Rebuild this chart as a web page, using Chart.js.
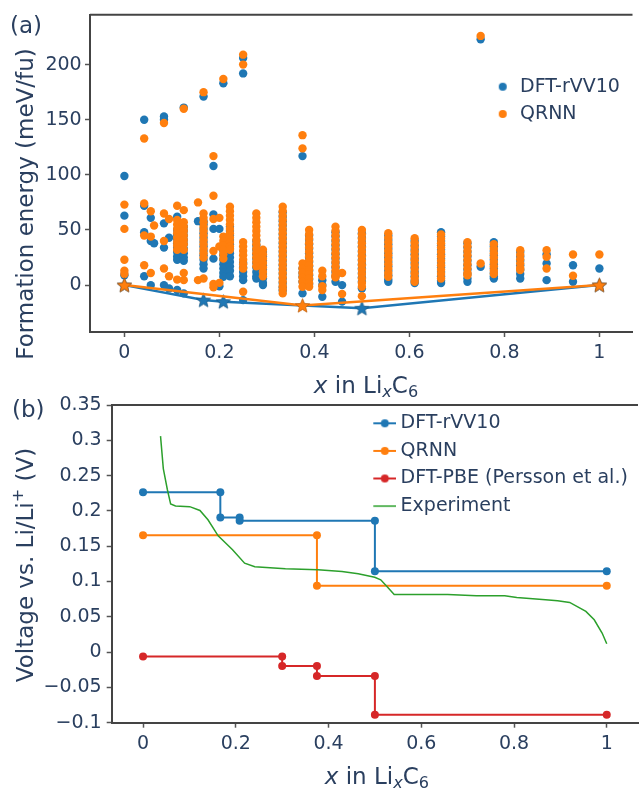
<!DOCTYPE html>
<html><head><meta charset="utf-8">
<script src="https://cdn.jsdelivr.net/npm/chart.js@4.4.1/dist/chart.umd.min.js"></script>
<style>
html,body{margin:0;padding:0;background:#fff;overflow:hidden;width:642px;height:790px}
#wrap{position:relative;width:642px;height:790px}
canvas{position:absolute;left:0}
#c1{top:0;width:642px;height:380px}
#c2{top:380px;width:642px;height:410px}
.lbl{position:absolute;font-family:'DejaVu Sans',Verdana,sans-serif;font-size:23px;line-height:23px;color:#2a3f5f;white-space:nowrap}
.sub{font-size:70%;position:relative;top:0.3em}
.sup{font-size:70%;position:relative;top:-0.6em}
.rot{transform-origin:0 0;transform:rotate(-90deg);width:400px;text-align:center}
</style></head><body>
<div id="wrap">
<canvas id="c1" width="642" height="380"></canvas>
<canvas id="c2" width="642" height="410"></canvas>
<div class="lbl" style="left:10px;top:13.5px">(a)</div>
<div class="lbl" style="left:12px;top:398px">(b)</div>
<div class="lbl rot" style="left:13.8px;top:404px">Formation energy (meV/fu)</div>
<div class="lbl rot" style="left:13.8px;top:765px">Voltage vs. Li/Li<span class="sup">+</span> (V)</div>
<div class="lbl" style="left:90px;width:552px;text-align:center;top:373.5px"><i>x</i> in Li<span class="sub"><i>x</i></span>C<span class="sub">6</span></div>
<div class="lbl" style="left:111.7px;width:530.3px;text-align:center;top:764.5px"><i>x</i> in Li<span class="sub"><i>x</i></span>C<span class="sub">6</span></div>
</div>
<script>
// ---------- DATA: panel (a) formation energies (meV/fu) ----------
const compositions = [0, 1/24, 1/18, 1/16, 1/12, 0.094, 1/9, 1/8, 0.155, 1/6, 3/16, 0.2, 5/24, 2/9, 1/4, 5/18, 7/24, 1/3, 3/8, 7/18, 5/12, 4/9, 11/24, 1/2, 5/9, 11/18, 2/3, 13/18, 3/4, 7/9, 5/6, 8/9, 17/18, 1];
const dftEnergies = [
  [99, 63, 9],
  [150, 72, 48, 8],
  [61, 40, 0],
  [38],
  [153, 150, 56, 34, 0],
  [43, -3],
  [62, 50, 46, 42, 38, 34, 30, 26, 23, -4.5],
  [161, 53, 49, 45, 41, 37, 33, 29, 25, 22, -7.5],
  [58],
  [171, 58, 55, 51, 47, 43, 39, 35, 31, 27, 23, 19, 15],
  [108, 64, 51, 24],
  [51, -1],
  [183, 35, 31, 27, 23, 19, 15, 11, 7.5],
  [53, 49, 45, 41, 37, 33, 29, 25, 21, 17, 13, 8],
  [206, 192, 20, 16, 12, 8, 4.5, -13.6],
  [40, 36, 32, 28, 24, 20, 16, 12, 8, 6],
  [30, 26, 22, 18, 14, 10, 6, 2, 0],
  [66, 62, 58, 54, 50, 46, 42, 38, 34, 30, 26, 22, 18, 14, 10, 6, 2, -2, -5],
  [117, 15, 11, 7.5, 3, -7.5],
  [45, 41, 37, 33, 29, 25, 21, 17, 13, 9, 5, 1],
  [4.5, 0, -10.6],
  [48, 44, 40, 36, 32, 28, 24, 20, 16, 12, 8, 3],
  [0, -15],
  [47, 43, 39, 35, 31, 27, 23, 19, 15, 11, 7, 3, -3],
  [45, 41, 37, 33, 29, 25, 21, 17, 13, 9, 5, 3],
  [40, 36, 32, 28, 24, 20, 16, 12, 8, 4, 1.8],
  [48, 44, 40, 36, 32, 28, 24, 20, 16, 12, 8, 4, 1.8],
  [38, 34, 30, 26, 22, 18, 14, 10, 6, 3],
  [223, 16.6],
  [39, 35, 31, 27, 23, 19, 15, 11, 8, 6],
  [30, 26, 22, 18, 14, 10, 6],
  [28, 19.6, 4.5],
  [18, 3],
  [15]
];
const qrnnEnergies = [
  [73, 51, 23, 13, 10],
  [133, 74, 45, 18],
  [67, 44, 11],
  [54],
  [147, 65, 40, 15],
  [60, 8],
  [72, 59, 55, 51, 47, 43, 39, 36, 32, 5],
  [160, 68, 57, 53, 49, 45, 41, 37, 32, 11, 4.5],
  [75, 4.5],
  [175, 65, 61, 57, 53, 49, 45, 41, 37, 33, 29, 25, 6],
  [117, 81, 60, 31, 1, -2],
  [61, 35, 2],
  [187, 44, 40, 36, 32, 28, 24],
  [71, 67, 63, 59, 55, 51, 47, 43, 39, 35, 32],
  [209, 200, 39, 35, 31, 27, 23, 19, 15, -6],
  [65, 61, 57, 53, 49, 45, 41, 37, 33, 29, 25, 21, 17],
  [32, 28, 24, 20, 16, 12, 8],
  [71, 67, 63, 59, 55, 51, 47, 43, 39, 35, 31, 27, 23, 19, 15, 11, 7, 3, -1, -4, -7.5],
  [136, 124, 19.6, 15, 11, 7, 3, -1.5],
  [50, 46, 42, 38, 34, 30, 26, 22, 18, 14, 10, 6, 2, -1.5],
  [13, 8, -1, -4.5],
  [53, 49, 45, 41, 37, 33, 29, 25, 21, 17, 13, 9, 7],
  [11, -8],
  [50, 46, 42, 38, 34, 30, 26, 22, 18, 14, 10, 6, 2, -1.5, -10],
  [47, 43, 39, 35, 31, 27, 23, 19, 15, 11, 7.5],
  [42.5, 38.5, 34.5, 30.5, 26.5, 22.5, 18.5, 14.5, 10.5, 6.5, 3],
  [46, 42, 38, 34, 30, 26, 22, 18, 14, 10, 6],
  [39, 35, 31, 27, 23, 19, 15, 11, 9],
  [226, 19.6],
  [37, 33, 29, 25, 21, 17, 13, 10],
  [31.7, 27.5, 23.5, 19.5, 15.5, 13.6],
  [31.7, 25.6, 15],
  [27.8, 8.5],
  [27.8]
];
const dftHullX = [0, 1/6, 5/24, 0.5, 1];
const dftHullY = [0, -13.6, -15, -21, 0];
const qrnnHullX = [0, 0.375, 1];
const qrnnHullY = [0, -18.5, 0];
const xTicksA = [0, 0.2, 0.4, 0.6, 0.8, 1];
const xTickLabelsA = ['0', '0.2', '0.4', '0.6', '0.8', '1'];
const yTicksA = [0, 50, 100, 150, 200];
const yTickLabelsA = ['0', '50', '100', '150', '200'];

// ---------- DATA: panel (b) voltage profiles (V) ----------
const dftVoltX = [0, 1/6, 1/6, 5/24, 5/24, 0.5, 0.5, 1];
const dftVoltY = [0.2265, 0.2265, 0.1905, 0.1905, 0.186, 0.186, 0.1145, 0.1145];
const qrnnVoltX = [0, 0.375, 0.375, 1];
const qrnnVoltY = [0.1655, 0.1655, 0.094, 0.094];
const pbeVoltX = [0, 0.3, 0.3, 0.375, 0.375, 0.5, 0.5, 1];
const pbeVoltY = [-0.0062, -0.0062, -0.0198, -0.0198, -0.034, -0.034, -0.0887, -0.0887];
const expVoltX = [0.0377, 0.0437, 0.0525, 0.0595, 0.07, 0.1007, 0.1227, 0.14, 0.162, 0.193, 0.219, 0.241, 0.307, 0.377, 0.429, 0.464, 0.4996, 0.5126, 0.526, 0.5416, 0.57, 0.657, 0.719, 0.78, 0.806, 0.868, 0.894, 0.92, 0.955, 0.973, 0.99, 1.0];
const expVoltY = [0.306, 0.26, 0.23, 0.21, 0.207, 0.206, 0.2006, 0.1874, 0.1647, 0.145, 0.126, 0.121, 0.118, 0.1166, 0.114, 0.111, 0.106, 0.1024, 0.093, 0.0816, 0.0816, 0.0816, 0.0797, 0.0797, 0.0774, 0.074, 0.0727, 0.0703, 0.0576, 0.0458, 0.027, 0.0118];
const xTicksB = [0, 0.2, 0.4, 0.6, 0.8, 1];
const xTickLabelsB = ['0', '0.2', '0.4', '0.6', '0.8', '1'];
const yTicksB = [-0.1, -0.05, 0, 0.05, 0.1, 0.15, 0.2, 0.25, 0.3, 0.35];
const yTickLabelsB = ['\u22120.1', '\u22120.05', '0', '0.05', '0.1', '0.15', '0.2', '0.25', '0.3', '0.35'];

// ---------- styling ----------
const BLUE = '#1f77b4', ORANGE = '#ff7f0e', RED = '#d62728', GREEN = '#2ca02c', TXT = '#2a3f5f';
const FONT = "'DejaVu Sans', Verdana, sans-serif";
Chart.defaults.font.family = FONT;
Chart.defaults.color = TXT;

function starIcon(color, edge, R) {
  const s = Math.ceil(R * 2 + 2);
  const c = document.createElement('canvas'); c.width = s; c.height = s;
  const g = c.getContext('2d'); g.translate(s / 2, s / 2 + 0.6); g.beginPath();
  for (let k = 0; k < 10; k++) {
    const r = k % 2 ? R * 0.45 : R; const a = -Math.PI / 2 + k * Math.PI / 5;
    g.lineTo(r * Math.cos(a), r * Math.sin(a));
  }
  g.closePath(); g.fillStyle = color; g.fill(); g.lineWidth = 0.7; g.strokeStyle = edge; g.stroke();
  return c;
}
function dotIcon(color, r) {
  const s = Math.ceil(r * 2 + 2);
  const c = document.createElement('canvas'); c.width = s; c.height = s;
  const g = c.getContext('2d'); g.beginPath(); g.arc(s / 2, s / 2, r, 0, Math.PI * 2); g.fillStyle = color; g.fill();
  return c;
}
function lineIcon(color, withDot, lw) {
  const c = document.createElement('canvas'); c.width = 28; c.height = 10;
  const g = c.getContext('2d'); g.strokeStyle = color; g.lineWidth = lw;
  g.beginPath(); g.moveTo(5.1, 5); g.lineTo(28, 5); g.stroke();
  if (withDot) { g.beginPath(); g.arc(16.6, 5, 4, 0, Math.PI * 2); g.fillStyle = color; g.fill(); }
  return c;
}
function pts(xs, ys) { return xs.map((x, i) => ({x: x, y: ys[i]})); }
function scatterPts(energies) {
  const out = [];
  compositions.forEach((x, i) => energies[i].forEach(e => out.push({x: x, y: e})));
  return out;
}
function placeLegend(x, y) {
  return { id: 'placeLegend', afterLayout(chart) {
    const lg = chart.legend; if (!lg) return;
    const w = lg.width, h = lg.height;
    lg.left = x; lg.top = y; lg.right = x + w; lg.bottom = y + h;
  }};
}
const topFrame = { id: 'topFrame', afterDraw(chart) {
  const a = chart.chartArea, g = chart.ctx; g.save(); g.strokeStyle = '#444'; g.lineWidth = 2;
  g.beginPath(); g.moveTo(a.left, a.top); g.lineTo(a.right, a.top); g.stroke(); g.restore();
}};
function axis(min, max, ticks, labels, pad, fit) {
  return {
    type: 'linear', min: min, max: max,
    afterBuildTicks: s => { s.ticks = ticks.map(v => ({value: v})); },
    ticks: { callback: (v, i) => labels[i], padding: pad, font: {size: 19}, color: TXT, autoSkip: false, maxRotation: 0 },
    grid: { display: true, drawOnChartArea: false, drawTicks: true, tickLength: 5, tickColor: '#555', tickWidth: 1.5 },
    border: { display: true, color: '#444', width: 2 },
    afterFit: fit
  };
}
function legendOpts(entries, pad, boxW) {
  return {
    display: true, position: 'chartArea', align: 'start',
    labels: {
      usePointStyle: true, pointStyleWidth: boxW, padding: pad, font: {size: 19}, color: TXT,
      generateLabels: () => entries.map(e => ({ text: e.text, pointStyle: e.icon, fillStyle: e.color, strokeStyle: e.color,
        lineWidth: 0, hidden: false, datasetIndex: e.ds, fontColor: TXT }))
    }
  };
}

// ---------- chart (a) ----------
new Chart(document.getElementById('c1'), {
  type: 'scatter',
  data: { datasets: [
    { label: 'DFT-rVV10', data: scatterPts(dftEnergies), backgroundColor: BLUE, borderWidth: 0, pointRadius: 4.2, order: 3 },
    { label: 'QRNN', data: scatterPts(qrnnEnergies), backgroundColor: ORANGE, borderWidth: 0, pointRadius: 4.2, order: 2 },
    { label: 'DFT-rVV10 hull', type: 'line', showLine: true, data: pts(dftHullX, dftHullY), borderColor: BLUE, borderWidth: 2.5,
      pointStyle: starIcon(BLUE, '#17557f', 7.5), pointRadius: 7, order: 1 },
    { label: 'QRNN hull', type: 'line', showLine: true, data: pts(qrnnHullX, qrnnHullY), borderColor: ORANGE, borderWidth: 2.5,
      pointStyle: starIcon(ORANGE, '#b85a08', 7.5), pointRadius: 7, order: 0 }
  ]},
  options: {
    responsive: false, animation: false, devicePixelRatio: 1, events: [],
    layout: { padding: { top: 14, left: 0, right: 0, bottom: 0 } },
    scales: {
      x: axis(-0.0724, 1.0697, xTicksA, xTickLabelsA, 5, s => { s.height = 48; }),
      y: axis(-42.53, 245.25, yTicksA, yTickLabelsA, 3.3, s => { s.width = 90; })
    },
    plugins: {
      tooltip: { enabled: false },
      legend: legendOpts([
        { text: 'DFT-rVV10', icon: dotIcon(BLUE, 4), color: BLUE, ds: 0 },
        { text: 'QRNN', icon: dotIcon(ORANGE, 4), color: ORANGE, ds: 1 }
      ], 8.3, 15.6)
    }
  },
  plugins: [placeLegend(486.6, 68.9), topFrame]
});

// ---------- chart (b) ----------
new Chart(document.getElementById('c2'), {
  type: 'line',
  data: { datasets: [
    { label: 'DFT-rVV10', data: pts(dftVoltX, dftVoltY), borderColor: BLUE, backgroundColor: BLUE, borderWidth: 2, pointRadius: 4, pointBorderWidth: 0, order: 3 },
    { label: 'QRNN', data: pts(qrnnVoltX, qrnnVoltY), borderColor: ORANGE, backgroundColor: ORANGE, borderWidth: 2, pointRadius: 4, pointBorderWidth: 0, order: 2 },
    { label: 'DFT-PBE (Persson et al.)', data: pts(pbeVoltX, pbeVoltY), borderColor: RED, backgroundColor: RED, borderWidth: 2, pointRadius: 4, pointBorderWidth: 0, order: 1 },
    { label: 'Experiment', data: pts(expVoltX, expVoltY), borderColor: GREEN, backgroundColor: GREEN, borderWidth: 1.5, pointRadius: 0, order: 0 }
  ]},
  options: {
    responsive: false, animation: false, devicePixelRatio: 1, events: [],
    layout: { padding: { top: 25, left: 0, right: 0, bottom: 0 } },
    scales: {
      x: axis(-0.0676, 1.0674, xTicksB, xTickLabelsB, 5, s => { s.height = 67.3; }),
      y: axis(-0.1, 0.35, yTicksB, yTickLabelsB, 5, s => { s.width = 111.7; })
    },
    plugins: {
      tooltip: { enabled: false },
      legend: legendOpts([
        { text: 'DFT-rVV10', icon: lineIcon(BLUE, true, 2), color: BLUE, ds: 0 },
        { text: 'QRNN', icon: lineIcon(ORANGE, true, 2), color: ORANGE, ds: 1 },
        { text: 'DFT-PBE (Persson et al.)', icon: lineIcon(RED, true, 2), color: RED, ds: 2 },
        { text: 'Experiment', icon: lineIcon(GREEN, false, 1.5), color: GREEN, ds: 3 }
      ], 8.6, 17.8)
    }
  },
  plugins: [placeLegend(364.7, 25.2), topFrame]
});
</script>
</body></html>
